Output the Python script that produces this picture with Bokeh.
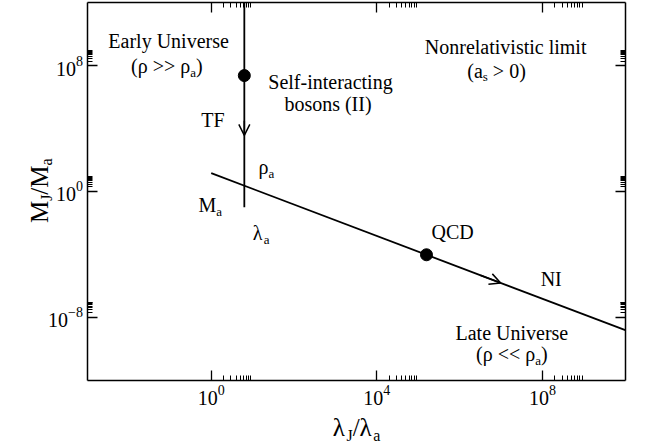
import math
from bokeh.plotting import figure
from bokeh.models import (Range1d, FixedTicker, LogAxis, Label, Arrow, OpenHead)
from bokeh.embed import file_html
from bokeh.resources import INLINE

# ---- data -------------------------------------------------------------
# Thomas-Fermi branch (vertical, at lambda_J = lambda_a scale)
tf_x = [6.3, 6.3]
tf_y = [1e12, 0.1]
# Noninteracting branch, M_J ~ 1/lambda_J
ni_x = [1.0, 1e10]
ni_y = [14.8, 1.48e-9]
# marked points: TF start and the QCD axion
pt_x = [6.3, 1.58e5]
pt_y = [2.4e7, 9.37e-5]
# direction arrows along the two branches (start, end)
tf_arrow_y = [10**4.5, 10**3.57]
ni_arrow_x = [10**6.5, 10**6.99]

# plotted box and its decade ticks
x_box = (1e-3, 1e10)
y_box = (1e-12, 1e12)
x_major = [1.0, 1e4, 1e8]
y_major = [1e-8, 1.0, 1e8]

FONT = "Liberation Serif"

# ---- figure -----------------------------------------------------------
# The frame fills the canvas; the box axes sit at fixed positions inside it
# so the axis titles (with subscripts) can be drawn as ordinary labels.
p = figure(width=654, height=447, x_axis_type="log", y_axis_type="log",
           x_range=Range1d(10**-5.089, 10**10.705),
           y_range=Range1d(10**-16.297, 10**12.159),
           output_backend="svg", toolbar_location=None,
           min_border=0, min_border_left=0, min_border_right=0,
           min_border_top=0, min_border_bottom=0)
p.xgrid.visible = False
p.ygrid.visible = False
p.outline_line_color = None
p.background_fill_color = "white"
p.border_fill_color = "white"


def minors(majors):
    return [m * k for m in majors for k in range(2, 10)]


def style_axis(ax, majors, bounds, where, show_labels):
    ax.ticker = FixedTicker(ticks=majors, minor_ticks=minors(majors))
    ax.bounds = bounds
    ax.fixed_location = where
    ax.axis_line_color = "black"
    ax.axis_line_width = 1.5
    ax.major_tick_in = 10
    ax.major_tick_out = 0
    ax.minor_tick_in = 5
    ax.minor_tick_out = 0
    ax.major_tick_line_width = 1.3
    ax.minor_tick_line_width = 1.0
    ax.major_tick_line_color = "black"
    ax.minor_tick_line_color = "black"
    ax.major_label_text_font = FONT
    ax.major_label_text_color = "black"
    ax.major_label_text_font_size = "20px"
    ax.major_label_standoff = 5
    if not show_labels:
        ax.major_label_text_alpha = 0


style_axis(p.xaxis[0], x_major, x_box, y_box[0], True)
style_axis(p.yaxis[0], y_major, y_box, x_box[0], True)
p.yaxis[0].major_label_standoff = 4

top_axis = LogAxis()
style_axis(top_axis, x_major, x_box, y_box[1], False)
p.add_layout(top_axis, "above")
right_axis = LogAxis()
style_axis(right_axis, y_major, y_box, x_box[1], False)
p.add_layout(right_axis, "right")

# ---- curves -----------------------------------------------------------
p.line(tf_x, tf_y, line_color="black", line_width=1.8)
p.line(ni_x, ni_y, line_color="black", line_width=1.8)
p.scatter(pt_x, pt_y, size=12, color="black")

p.add_layout(Arrow(end=OpenHead(size=11, line_width=1.5, line_color="black"),
                   x_start=tf_x[0], y_start=tf_arrow_y[0],
                   x_end=tf_x[0], y_end=tf_arrow_y[1],
                   line_color="black", line_width=1.5))
ni_slope = math.log10(ni_y[1] / ni_y[0]) / math.log10(ni_x[1] / ni_x[0])
ni_at = [ni_y[0] * xv ** ni_slope for xv in ni_arrow_x]
p.add_layout(Arrow(end=OpenHead(size=11, line_width=1.5, line_color="black"),
                   x_start=ni_arrow_x[0], y_start=ni_at[0],
                   x_end=ni_arrow_x[1], y_end=ni_at[1],
                   line_color="black", line_width=1.5))

# ---- text with subscripts --------------------------------------------
# advance widths (1/1000 em) of the Times-metric serif face
ADV = {' ': 250, '(': 333, ')': 333, '-': 333, '/': 278, '>': 564, '<': 564,
       '0': 500, 'a': 444, 's': 389, 'J': 389, 'M': 889, 'ρ': 500, 'λ': 550}


def text_width(t, size):
    return sum(ADV.get(c, 500) for c in t) * size / 1000.0


def rich(x, y, parts, size=20, align="center", angle=0.0):
    sub = round(size * 0.65)
    drop = size * 0.3
    if len(parts) == 1:
        p.add_layout(Label(x=x, y=y, text=parts[0][0], text_font=FONT,
                           text_font_size=f"{size}px", text_color="black",
                           text_align=align, text_baseline="alphabetic",
                           angle=angle))
        return
    widths = [text_width(t, sub if s else size) for t, s in parts]
    pos = -sum(widths) / 2 if align == "center" else 0.0
    for (t, s), w in zip(parts, widths):
        fs = sub if s else size
        d = drop if s else 0.0
        # SVG drops leading blanks, so turn them into an offset
        body = t.lstrip(" ")
        lead = text_width(t[:len(t) - len(body)], fs)
        if angle == 0.0:
            xo, yo = pos + lead, -d
        else:
            xo, yo = d, pos + lead
        p.add_layout(Label(x=x, y=y, x_offset=xo, y_offset=yo, text=body,
                           text_font=FONT, text_font_size=f"{fs}px",
                           text_color="black", text_align="left",
                           text_baseline="alphabetic", angle=angle))
        pos += w


rich(10**-1.03, 10**9.55, [("Early Universe", False)])
rich(10**-1.07, 10**7.96, [("(ρ >> ρ", False), ("a", True), (")", False)])
rich(10**2.88, 10**7.00, [("Self-interacting", False)])
rich(10**2.82, 10**5.60, [("bosons (II)", False)])
rich(10**0.04, 10**4.52, [("TF", False)])
rich(10**1.14, 10**1.53, [("ρ", False), ("a", True)], align="left")
rich(10**-0.31, 10**-0.89, [("M", False), ("a", True)], align="left")
rich(10**1.0, 10**-2.67, [("λ", False), ("a", True)], align="left")
rich(10**7.11, 10**9.17, [("Nonrelativistic limit", False)])
rich(10**6.89, 10**7.70, [("(a", False), ("s", True), (" > 0)", False)])
rich(10**5.83, 10**-2.55, [("QCD", False)])
rich(10**8.21, 10**-5.54, [("NI", False)])
rich(10**7.26, 10**-8.98, [("Late Universe", False)])
rich(10**7.26, 10**-10.35, [("(ρ << ρ", False), ("a", True), (")", False)])

# axis titles
rich(10**3.51, 10**-15.05, [("λ", False), ("J", True), ("/λ", False), ("a", True)],
     size=25)
rich(10**-4.15, 10**0.05, [("M", False), ("J", True), ("/M", False), ("a", True)],
     size=25, angle=math.pi / 2)

open("out.html", "w").write(file_html(p, INLINE))
